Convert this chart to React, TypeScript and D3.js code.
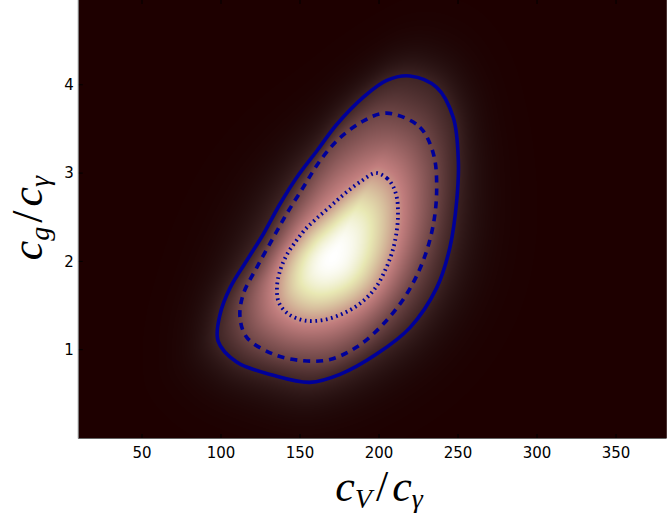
import React, { useMemo } from "react";
import * as d3 from "d3";

const WIDTH = 667;
const HEIGHT = 513;
const X_DOMAIN: [number, number] = [10, 382];
const Y_DOMAIN: [number, number] = [0, 4.96];
const X_TICKS = [50, 100, 150, 200, 250, 300, 350];
const Y_TICKS = [1, 2, 3, 4];

// density peak (c_V/c_gamma, c_g/c_gamma)
const PEAK_X = 170.9;
const PEAK_Y = 2.05;

// outer credible contour (solid)
const solidX = [219.6, 236.5, 247.0, 250.2, 249.2, 244.9, 236.5, 219.6, 198.5, 175.3, 156.3, 133.1, 109.9, 98.1, 99.4, 105.7, 116.3, 126.8, 137.3, 147.9, 160.6, 173.2, 190.1, 204.9];
const solidY = [4.10, 3.97, 3.63, 3.14, 2.69, 2.16, 1.70, 1.25, 0.95, 0.72, 0.63, 0.71, 0.86, 1.10, 1.40, 1.70, 2.01, 2.31, 2.65, 2.95, 3.25, 3.55, 3.86, 4.05];

// middle contour (dashed)
const dashedX = [209.1, 225.9, 234.4, 236.5, 234.4, 228.0, 217.5, 202.7, 185.9, 169.0, 152.1, 133.1, 116.3, 112.0, 114.1, 122.6, 133.1, 141.6, 152.1, 162.7, 175.3, 190.1, 200.6];
const dashedY = [3.67, 3.52, 3.22, 2.84, 2.42, 2.01, 1.63, 1.29, 1.03, 0.89, 0.875, 0.95, 1.14, 1.37, 1.63, 1.93, 2.27, 2.54, 2.84, 3.14, 3.40, 3.59, 3.67];

// inner contour (dotted)
const dottedX = [198.1, 205.1, 208.9, 211.4, 212.0, 211.4, 208.9, 204.4, 198.1, 189.2, 178.5, 165.8, 153.2, 143.0, 136.7, 135.4, 137.3, 141.8, 147.5, 153.2, 160.1, 169.0, 178.5, 188.0];
const dottedY = [3.00, 2.94, 2.85, 2.71, 2.54, 2.37, 2.14, 1.92, 1.71, 1.54, 1.42, 1.34, 1.33, 1.40, 1.53, 1.70, 1.89, 2.08, 2.23, 2.36, 2.48, 2.62, 2.77, 2.90];

// relative density (fraction of peak) on dotted, dashed, solid contours
const LEVELS = [0.42, 0.11, 0.03];

const LINE_COLOR = "#000099";

function pink(t: number): [number, number, number] {
  t = Math.max(0, Math.min(1, t));
  const hr = Math.min(1, 0.0416 + ((1 - 0.0416) * t) / 0.365079);
  const hg = Math.max(0, Math.min(1, (t - 0.365079) / (0.746032 - 0.365079)));
  const hb = Math.max(0, Math.min(1, (t - 0.746032) / (1 - 0.746032)));
  return [
    Math.sqrt((2 * t + hr) / 3) * 255,
    Math.sqrt((2 * t + hg) / 3) * 255,
    Math.sqrt((2 * t + hb) / 3) * 255,
  ];
}

function sampleClosed(pts: [number, number][]): [number, number][] {
  const out: [number, number][] = [];
  let cx = 0,
    cy = 0;
  const ctx: any = {
    moveTo(x: number, y: number) {
      cx = x;
      cy = y;
      out.push([x, y]);
    },
    lineTo(x: number, y: number) {
      cx = x;
      cy = y;
      out.push([x, y]);
    },
    bezierCurveTo(x1: number, y1: number, x2: number, y2: number, x: number, y: number) {
      for (let k = 1; k <= 12; k++) {
        const s = k / 12,
          u = 1 - s;
        out.push([
          u * u * u * cx + 3 * u * u * s * x1 + 3 * u * s * s * x2 + s * s * s * x,
          u * u * u * cy + 3 * u * u * s * y1 + 3 * u * s * s * y2 + s * s * s * y,
        ]);
      }
      cx = x;
      cy = y;
    },
    closePath() {},
  };
  d3.line().curve(d3.curveCatmullRomClosed.alpha(0.5)).context(ctx)(pts);
  return out;
}

function radialTable(poly: [number, number][], cx: number, cy: number, N: number) {
  const R = new Float64Array(N);
  for (let a = 0; a < N; a++) {
    const th = (a / N) * 2 * Math.PI;
    const dx = Math.cos(th),
      dy = Math.sin(th);
    let best = 0;
    for (let i = 0; i < poly.length; i++) {
      const [ax, ay] = poly[i];
      const [bx, by] = poly[(i + 1) % poly.length];
      const ex = bx - ax,
        ey = by - ay;
      const den = dx * ey - dy * ex;
      if (Math.abs(den) < 1e-12) continue;
      const qx = ax - cx,
        qy = ay - cy;
      const t = (qx * ey - qy * ex) / den;
      const s = (qx * dy - qy * dx) / den;
      if (s >= 0 && s <= 1 && t > best) best = t;
    }
    R[a] = best;
  }
  return R;
}

export default function App() {
  const x = d3.scaleLinear().domain(X_DOMAIN).range([78.8, 666.6]);
  const y = d3.scaleLinear().domain(Y_DOMAIN).range([438, 0]);
  const left = x(X_DOMAIN[0]);
  const right = x(X_DOMAIN[1]);
  const top = y(Y_DOMAIN[1]);
  const bottom = y(Y_DOMAIN[0]);

  const contours = [
    { xs: dottedX, ys: dottedY },
    { xs: dashedX, ys: dashedY },
    { xs: solidX, ys: solidY },
  ];

  const imageUrl = useMemo(() => {
    const W = Math.ceil(right - left);
    const H = Math.ceil(bottom - top);
    const canvas = document.createElement("canvas");
    canvas.width = W;
    canvas.height = H;
    const ctx = canvas.getContext("2d")!;
    const img = ctx.createImageData(W, H);
    const pcx = x(PEAK_X);
    const pcy = y(PEAK_Y);
    const N = 720;
    const tables = contours.map((c) => {
      const pts = c.xs.map((v, i) => [x(v), y(c.ys[i])] as [number, number]);
      return radialTable(sampleClosed(pts), pcx, pcy, N);
    });
    const M = LEVELS.map((c) => Math.sqrt(-2 * Math.log(c)));
    const OUTER_SLOPE = 0.026;
    for (let j = 0; j < H; j++) {
      for (let i = 0; i < W; i++) {
        const px = left + i + 0.5;
        const py = top + j + 0.5;
        const dx = px - pcx,
          dy = py - pcy;
        const r = Math.hypot(dx, dy);
        let th = Math.atan2(dy, dx);
        if (th < 0) th += 2 * Math.PI;
        const f = (th / (2 * Math.PI)) * N;
        const i0 = Math.floor(f) % N;
        const i1 = (i0 + 1) % N;
        const w = f - Math.floor(f);
        const R = tables.map((t) => t[i0] * (1 - w) + t[i1] * w);
        let m: number;
        if (r <= R[0]) m = (M[0] * r) / R[0];
        else if (r <= R[1]) m = M[0] + ((M[1] - M[0]) * (r - R[0])) / (R[1] - R[0]);
        else if (r <= R[2]) m = M[1] + ((M[2] - M[1]) * (r - R[1])) / (R[2] - R[1]);
        else m = M[2] + OUTER_SLOPE * (r - R[2]);
        const c = Math.exp((-m * m) / 2);
        const [cr, cg, cb] = pink(c);
        const k = (j * W + i) * 4;
        img.data[k] = cr;
        img.data[k + 1] = cg;
        img.data[k + 2] = cb;
        img.data[k + 3] = 255;
      }
    }
    ctx.putImageData(img, 0, 0);
    return canvas.toDataURL();
  }, []);

  const lineGen = (xs: number[], ys: number[]) =>
    d3
      .line<number>()
      .x((i) => x(xs[i]))
      .y((i) => y(ys[i]))
      .curve(d3.curveCatmullRomClosed.alpha(0.5))(xs.map((_, i) => i)) || "";

  const tickFont = { fontFamily: "DejaVu Sans", fontSize: 15, fill: "#000" };
  const labelFont = { fontFamily: "Liberation Serif", fontSize: 44, fontStyle: "italic" as const };

  return (
    <svg width={WIDTH} height={HEIGHT} style={{ position: "absolute", left: 0, top: 0, display: "block" }}>
      <defs>
        <clipPath id="plot-clip">
          <rect x={left} y={top} width={right - left} height={bottom - top} />
        </clipPath>
      </defs>
      <rect x={0} y={0} width={WIDTH} height={HEIGHT} fill="#fff" />
      <image href={imageUrl} x={left} y={top} width={Math.ceil(right - left)} height={Math.ceil(bottom - top)} preserveAspectRatio="none" />
      <g clipPath="url(#plot-clip)" fill="none" stroke={LINE_COLOR}>
        <path d={lineGen(solidX, solidY)} strokeWidth={3.6} />
        <path d={lineGen(dashedX, dashedY)} strokeWidth={3.6} strokeDasharray="7,6" />
        <path d={lineGen(dottedX, dottedY)} strokeWidth={3.8} strokeDasharray="1.7,3.6" />
      </g>
      {/* ticks */}
      <g stroke="#000" strokeWidth={1}>
        {X_TICKS.map((t) => (
          <g key={"xt" + t}>
            <line x1={x(t)} x2={x(t)} y1={bottom} y2={bottom - 4} />
            <line x1={x(t)} x2={x(t)} y1={top} y2={top + 4} />
          </g>
        ))}
        {Y_TICKS.map((t) => (
          <line key={"yt" + t} x1={left} x2={left + 4} y1={y(t)} y2={y(t)} />
        ))}
      </g>
      <line x1={left - 0.5} x2={left - 0.5} y1={top} y2={bottom + 0.5} stroke="#666" strokeWidth={1} />
      <line x1={left - 0.5} x2={right} y1={bottom + 0.5} y2={bottom + 0.5} stroke="#666" strokeWidth={1} />
      {X_TICKS.map((t) => (
        <text key={"xl" + t} x={x(t)} y={458} textAnchor="middle" {...tickFont}>
          {t}
        </text>
      ))}
      {Y_TICKS.map((t) => (
        <text key={"yl" + t} x={left - 5} y={y(t)} dy="0.36em" textAnchor="end" {...tickFont}>
          {t}
        </text>
      ))}
      <text x={379} y={501} textAnchor="middle" {...labelFont}>
        <tspan>c</tspan>
        <tspan fontSize={28} dy={7}>V</tspan>
        <tspan dy={-7} dx={4} fontStyle="normal">/</tspan>
        <tspan dx={4}>c</tspan>
        <tspan fontSize={28} dy={7}>γ</tspan>
      </text>
      <text transform="translate(42,218) rotate(-90)" textAnchor="middle" {...labelFont}>
        <tspan>c</tspan>
        <tspan fontSize={28} dy={7}>g</tspan>
        <tspan dy={-7} dx={4} fontStyle="normal">/</tspan>
        <tspan dx={4}>c</tspan>
        <tspan fontSize={28} dy={7}>γ</tspan>
      </text>
    </svg>
  );
}
